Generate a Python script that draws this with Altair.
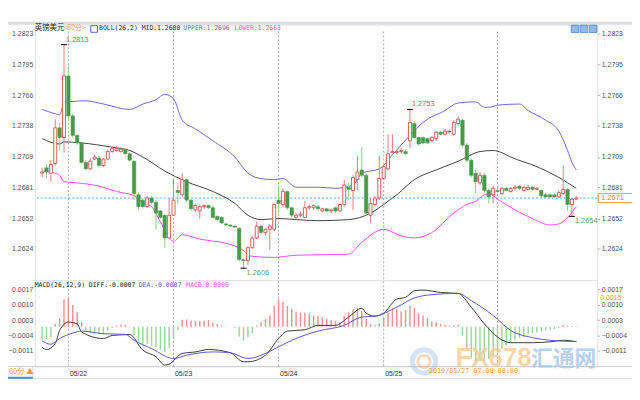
import altair as alt
import pandas as pd

# ---------------- data ----------------
OPEN = [1.2694, 1.2699, 1.2694, 1.2703, 1.2736, 1.2727, 1.2784, 1.2747, 1.2729, 1.2722,
        1.2704, 1.2698, 1.2707, 1.2708, 1.2701, 1.2707, 1.2714, 1.2715, 1.2714, 1.2716,
        1.2712, 1.2705, 1.2674, 1.2669, 1.2663, 1.2671, 1.2667, 1.2659, 1.2655, 1.2634,
        1.2655, 1.2678, 1.2674, 1.2688, 1.2669, 1.2660, 1.2659, 1.2663, 1.2664, 1.2662,
        1.2654, 1.2653, 1.2647, 1.2646, 1.2645, 1.2643, 1.2614, 1.2613, 1.2625, 1.2634,
        1.2645, 1.2639, 1.2642, 1.2642, 1.2669, 1.2665, 1.2677, 1.2662, 1.2653, 1.2655,
        1.2653, 1.2662, 1.2662, 1.2663, 1.2659, 1.2661, 1.2659, 1.2662, 1.2659, 1.2665,
        1.2681, 1.2678, 1.2688, 1.2697, 1.2692, 1.2655, 1.2665, 1.2671, 1.2689, 1.2698,
        1.2713, 1.2713, 1.2714, 1.2714, 1.2724, 1.2740, 1.2727, 1.2727, 1.2726, 1.2724,
        1.2726, 1.2732, 1.2730, 1.2733, 1.2730, 1.2740, 1.2743, 1.2720, 1.2706, 1.2694,
        1.2685, 1.2692, 1.2678, 1.2674, 1.2678, 1.2675, 1.2680, 1.2677, 1.2680, 1.2682,
        1.2678, 1.2679, 1.2681, 1.2679, 1.2678, 1.2674, 1.2674, 1.2674, 1.2672, 1.2675,
        1.2679, 1.2665, 1.2670]
HIGH = [1.2699, 1.2702, 1.2706, 1.2744, 1.2741, 1.2813, 1.2793, 1.2749, 1.2730, 1.2723,
        1.2706, 1.2708, 1.2711, 1.2710, 1.2708, 1.2716, 1.2719, 1.2719, 1.2718, 1.2717,
        1.2713, 1.2706, 1.2676, 1.2671, 1.2673, 1.2673, 1.2669, 1.2660, 1.2656, 1.2671,
        1.2688, 1.2685, 1.2694, 1.2689, 1.2670, 1.2666, 1.2665, 1.2665, 1.2665, 1.2664,
        1.2655, 1.2654, 1.2648, 1.2647, 1.2646, 1.2644, 1.2615, 1.2627, 1.2636, 1.2649,
        1.2646, 1.2643, 1.2647, 1.2666, 1.2683, 1.2680, 1.2678, 1.2663, 1.2657, 1.2658,
        1.2668, 1.2665, 1.2665, 1.2665, 1.2662, 1.2662, 1.2661, 1.2663, 1.2666, 1.2688,
        1.2685, 1.2692, 1.2710, 1.2718, 1.2694, 1.2671, 1.2673, 1.2710, 1.2701, 1.2730,
        1.2730, 1.2716, 1.2717, 1.2716, 1.2753, 1.2742, 1.2728, 1.2728, 1.2727, 1.2728,
        1.2733, 1.2733, 1.2735, 1.2735, 1.2743, 1.2747, 1.2744, 1.2722, 1.2708, 1.2697,
        1.2695, 1.2694, 1.2680, 1.2682, 1.2680, 1.2681, 1.2681, 1.2681, 1.2683, 1.2683,
        1.2682, 1.2683, 1.2682, 1.2681, 1.2679, 1.2676, 1.2676, 1.2676, 1.2678, 1.2701,
        1.2680, 1.2671, 1.2673]
LOW = [1.2690, 1.2689, 1.2686, 1.2701, 1.2715, 1.2713, 1.2744, 1.2727, 1.2720, 1.2703,
       1.2697, 1.2697, 1.2706, 1.2700, 1.2700, 1.2706, 1.2713, 1.2714, 1.2713, 1.2711,
       1.2705, 1.2669, 1.2660, 1.2661, 1.2662, 1.2665, 1.2642, 1.2652, 1.2625, 1.2633,
       1.2655, 1.2665, 1.2672, 1.2667, 1.2659, 1.2658, 1.2652, 1.2661, 1.2661, 1.2652,
       1.2650, 1.2647, 1.2645, 1.2644, 1.2643, 1.2612, 1.2606, 1.2609, 1.2624, 1.2633,
       1.2637, 1.2636, 1.2623, 1.2640, 1.2657, 1.2663, 1.2660, 1.2653, 1.2652, 1.2653,
       1.2653, 1.2660, 1.2660, 1.2659, 1.2658, 1.2658, 1.2657, 1.2657, 1.2658, 1.2663,
       1.2669, 1.2660, 1.2678, 1.2690, 1.2655, 1.2648, 1.2663, 1.2669, 1.2688, 1.2697,
       1.2713, 1.2711, 1.2712, 1.2711, 1.2717, 1.2726, 1.2719, 1.2721, 1.2721, 1.2723,
       1.2724, 1.2729, 1.2729, 1.2730, 1.2729, 1.2738, 1.2718, 1.2704, 1.2690, 1.2675,
       1.2683, 1.2676, 1.2666, 1.2666, 1.2676, 1.2674, 1.2677, 1.2676, 1.2678, 1.2678,
       1.2677, 1.2678, 1.2678, 1.2678, 1.2671, 1.2671, 1.2671, 1.2671, 1.2671, 1.2674,
       1.2659, 1.2654, 1.2669]
CLOSE = [1.2695, 1.2695, 1.2702, 1.2736, 1.2727, 1.2784, 1.2747, 1.2729, 1.2722, 1.2704,
         1.2698, 1.2705, 1.2709, 1.2701, 1.2707, 1.2714, 1.2717, 1.2717, 1.2716, 1.2712,
         1.2706, 1.2675, 1.2663, 1.2663, 1.2671, 1.2667, 1.2657, 1.2653, 1.2634, 1.2655,
         1.2669, 1.2676, 1.2688, 1.2669, 1.2661, 1.2664, 1.2663, 1.2664, 1.2662, 1.2653,
         1.2651, 1.2648, 1.2646, 1.2645, 1.2644, 1.2614, 1.2613, 1.2625, 1.2634, 1.2645,
         1.2639, 1.2642, 1.2645, 1.2665, 1.2666, 1.2677, 1.2662, 1.2655, 1.2655, 1.2656,
         1.2662, 1.2663, 1.2664, 1.2661, 1.2661, 1.2659, 1.2660, 1.2659, 1.2665, 1.2683,
         1.2679, 1.2690, 1.2695, 1.2692, 1.2657, 1.2666, 1.2671, 1.2689, 1.2700, 1.2712,
         1.2714, 1.2714, 1.2715, 1.2712, 1.2741, 1.2727, 1.2721, 1.2722, 1.2722, 1.2727,
         1.2732, 1.2730, 1.2733, 1.2732, 1.2741, 1.2744, 1.2720, 1.2706, 1.2692, 1.2686,
         1.2692, 1.2678, 1.2672, 1.2680, 1.2677, 1.2680, 1.2678, 1.2680, 1.2681, 1.2680,
         1.2681, 1.2681, 1.2679, 1.2680, 1.2673, 1.2672, 1.2672, 1.2672, 1.2676, 1.2679,
         1.2665, 1.2670, 1.2671]

UPPER_IDX = [0, 3, 4, 5, 6, 10, 14, 20, 23, 26, 28, 30, 32, 35, 39, 44, 47, 50, 53, 55,
             58, 63, 67, 71, 73, 77, 80, 84, 87, 92, 95, 99, 101, 102, 104, 109, 111, 115,
             118, 120, 121, 122]
UPPER = [1.2753, 1.2749, 1.2748, 1.2759, 1.2760, 1.2761, 1.2758, 1.2753, 1.2758, 1.2762,
         1.2767, 1.2763, 1.2743, 1.2735, 1.2724, 1.2709, 1.2694, 1.2689, 1.2688, 1.2689,
         1.2681, 1.2681, 1.2680, 1.2683, 1.2694, 1.2698, 1.2711, 1.2729, 1.2741, 1.2752,
         1.2759, 1.2760, 1.2755, 1.2755, 1.2757, 1.2758, 1.2752, 1.2743, 1.2733, 1.2715,
         1.2704, 1.2697]
MID_IDX = [0, 4, 5, 9, 16, 20, 23, 28, 33, 39, 44, 47, 50, 54, 58, 63, 70, 75, 78, 81,
           85, 90, 95, 100, 103, 105, 107, 113, 118, 122]
MID = [1.2726, 1.2721, 1.2723, 1.2722, 1.2718, 1.2715, 1.2709, 1.2696, 1.2686, 1.2677,
       1.2666, 1.2655, 1.2651, 1.2652, 1.2651, 1.2650, 1.2651, 1.2657, 1.2665, 1.2674,
       1.2688, 1.2697, 1.2705, 1.2714, 1.2715, 1.2713, 1.2709, 1.2700, 1.2690, 1.2680]
LOWER_IDX = [0, 3, 4, 5, 8, 13, 17, 21, 23, 25, 27, 30, 32, 36, 43, 45, 48, 53, 58, 70,
             73, 78, 82, 85, 89, 94, 97, 99, 101, 102, 104, 108, 112, 116, 118, 120, 122]
LOWER = [1.2696, 1.2694, 1.2692, 1.2686, 1.2685, 1.2682, 1.2677, 1.2673, 1.2667, 1.2663,
         1.2649, 1.2631, 1.2637, 1.2633, 1.2628, 1.2625, 1.2617, 1.2616, 1.2618, 1.2619,
         1.2630, 1.2642, 1.2636, 1.2634, 1.2639, 1.2657, 1.2665, 1.2668, 1.2674, 1.2675,
         1.2670, 1.2660, 1.2652, 1.2646, 1.2647, 1.2653, 1.2663]

HIST = [-0.00060, -0.00056, -0.00048, 0.00012, 0.00038, 0.00125, 0.00129, 0.00099, 0.00065, 0.00020,
        -0.00018, -0.00030, -0.00030, -0.00033, -0.00036, -0.00021, -0.00006, 0.00005, 0.00009, 0.00009,
        0.00002, -0.00041, -0.00071, -0.00086, -0.00078, -0.00086, -0.00093, -0.00105, -0.00116, -0.00096,
        -0.00056, -0.00015, 0.00032, 0.00032, 0.00027, 0.00027, 0.00027, 0.00027, 0.00030, 0.00017,
        0.00012, 0.00005, 0.00002, 0.00000, -0.00006, -0.00045, -0.00063, -0.00048, -0.00030, 0.00005,
        0.00020, 0.00035, 0.00050, 0.00095, 0.00125, 0.00114, 0.00095, 0.00080, 0.00068, 0.00065,
        0.00065, 0.00060, 0.00050, 0.00050, 0.00042, 0.00035, 0.00030, 0.00027, 0.00020, 0.00050,
        0.00065, 0.00080, 0.00087, 0.00072, 0.00035, 0.00012, 0.00005, 0.00015, 0.00042, 0.00065,
        0.00084, 0.00080, 0.00069, 0.00075, 0.00095, 0.00087, 0.00060, 0.00050, 0.00039, 0.00024,
        0.00020, 0.00012, 0.00009, 0.00005, 0.00005, 0.00009, -0.00041, -0.00108, -0.00146, -0.00161,
        -0.00157, -0.00157, -0.00146, -0.00131, -0.00116, -0.00101, -0.00086, -0.00075, -0.00063, -0.00051,
        -0.00048, -0.00036, -0.00030, -0.00026, -0.00021, -0.00018, -0.00015, -0.00011, -0.00006, 0.00008,
        0.00005, 0.00003, 0.00002]
DIFF_IDX = [0, 1, 3, 4, 6, 8, 9, 14, 16, 20, 23, 26, 28, 29, 32, 35, 38, 43, 46, 47,
            51, 54, 56, 60, 63, 67, 70, 73, 74, 76, 78, 81, 83, 85, 87, 91, 95, 98, 101, 104,
            107, 112, 116, 119, 122]
DIFF = [-0.00095, -0.00104, -0.00077, -0.00017, 0.00021, 0.00013, -0.00024, -0.00054, -0.00040, -0.00036,
        -0.00107, -0.00137, -0.00175, -0.00171, -0.00122, -0.00115, -0.00104, -0.00119, -0.00160, -0.00160,
        -0.00130, -0.00054, -0.00020, -0.00014, 0.00006, 0.00006, 0.00044, 0.00084, 0.00062, 0.00048,
        0.00062, 0.00126, 0.00134, 0.00164, 0.00167, 0.00156, 0.00152, 0.00089, 0.00013, -0.00047,
        -0.00073, -0.00073, -0.00069, -0.00062, -0.00068]
DEA_IDX = [0, 2, 4, 7, 9, 14, 19, 21, 25, 30, 33, 39, 43, 47, 51, 54, 57, 63, 69, 73,
           76, 81, 85, 89, 95, 98, 103, 107, 112, 116, 122]
DEA = [-0.00065, -0.00080, -0.00054, -0.00029, -0.00020, -0.00032, -0.00035, -0.00062, -0.00100, -0.00145,
       -0.00130, -0.00115, -0.00119, -0.00145, -0.00122, -0.00092, -0.00062, -0.00020, 0.00006, 0.00044,
       0.00048, 0.00089, 0.00131, 0.00146, 0.00152, 0.00119, 0.00051, -0.00017, -0.00050, -0.00062,
       -0.00068]

DAY_IDX = [6, 30, 54, 78, 104]
DAY_LABELS = ['05/22', '05/23', '05/24', '05/25', '']
PRICE_TICKS = [1.2624, 1.2652, 1.2681, 1.2709, 1.2738, 1.2766, 1.2795, 1.2823]
MACD_TICKS = [-0.0011, -0.0004, 0.0003, 0.0010, 0.0017]
EXT_IDX = [5, 84, 46, 121]
EXT_KIND = ['high', 'high', 'low', 'low']

BOLL_HEAD = ['英镑美元', '<60分>', 'BOLL(26,2) MID:1.2680', 'UPPER:1.2696', 'LOWER:1.2663']
MACD_HEAD = ['MACD(26,12,9) DIFF:-0.0007', 'DEA:-0.0007', 'MACD:0.0000']

# ---------------- styling ----------------
RED = '#e05c5c'
RED_WICK = '#e47d7d'
GREEN = '#4a984a'
GREEN_WICK = '#8fcc8f'
UP_C = '#6a6ad6'
MID_C = '#444444'
LOW_C = '#ff4dff'
DIFF_C = '#3a3a3a'
DEA_C = '#5a5ad6'
HIST_UP = '#ee9494'
HIST_DN = '#9fd49f'
ORANGE = '#f39a35'
MONO = 'DejaVu Sans Mono'
SANS = 'Liberation Sans'
CJK = 'Noto Sans CJK SC'

W, H = 568, 345
X_SCALE = alt.Scale(domain=[-0.556, 125.667], nice=False, zero=False)
PRICE_SCALE = alt.Scale(domain=[1.25958, 1.28315], range=[257, 0], nice=False, zero=False)
MACD_SCALE = alt.Scale(domain=[-0.00181, 0.00203], range=[345, 260], nice=False, zero=False)

N = len(OPEN)
cdf = pd.DataFrame({'i': list(range(N)), 'open': OPEN, 'high': HIGH, 'low': LOW,
                    'close': CLOSE, 'hist': HIST})
cdf['dir'] = ['up' if c >= o else 'down' for o, c in zip(OPEN, CLOSE)]

XN = alt.X('i:Q', scale=X_SCALE, axis=None)


def axis(orient, values, ticks=False):
    kw = dict(orient=orient, values=values, format='.4f', title=None, grid=False,
              domain=False, ticks=ticks, labelPadding=2, labelFont=SANS,
              labelFontSize=7, labelColor='#555555')
    if ticks:
        kw.update(tickSize=2, tickColor='#aaaaaa')
    return alt.Axis(**kw)


def one():
    return pd.DataFrame({'a': [0]})


def txt(s, x, y, color='#222222', size=6.5, font=MONO, align='left',
        baseline='middle', weight='normal', opacity=1.0):
    return alt.Chart(pd.DataFrame({'t': [s]})).mark_text(
        align=align, baseline=baseline, font=font, fontSize=size, color=color,
        fontWeight=weight, opacity=opacity).encode(
        x=alt.value(x), y=alt.value(y), text='t:N')


def hrule(x1, x2, y, color, width=1.0):
    return alt.Chart(one()).mark_rule(color=color, strokeWidth=width).encode(
        x=alt.value(x1), x2=alt.value(x2), y=alt.value(y))


def vrule(x, y1, y2, color, width=1.0):
    return alt.Chart(one()).mark_rule(color=color, strokeWidth=width).encode(
        x=alt.value(x), y=alt.value(y1), y2=alt.value(y2))


def rect(x1, x2, y1, y2, **kw):
    return alt.Chart(one()).mark_rect(**kw).encode(
        x=alt.value(x1), x2=alt.value(x2), y=alt.value(y1), y2=alt.value(y2))


layers = []

# frame decorations
layers.append(rect(-27, 603, -3, 0, fill='#dcdce4'))
layers.append(hrule(0, W, 258.5, '#dddddd'))
layers.append(hrule(-27, 603, 345, '#cccccc'))
layers.append(hrule(-27, 603, 357.5, '#dddddd'))
layers.append(vrule(-2, 345, 357, '#dddddd'))

# day separator lines + date axis
expr = ''.join(f"datum.value == {d} ? '{l}' : " for d, l in zip(DAY_IDX, DAY_LABELS)) + "''"
day_df = pd.DataFrame({'i': DAY_IDX})
layers.append(alt.Chart(day_df).mark_rule(color='#aaaaaa', strokeDash=[2, 2], strokeWidth=1).encode(
    x=alt.X('i:Q', scale=X_SCALE, axis=alt.Axis(
        orient='bottom', values=DAY_IDX[:4], labelExpr=expr, title=None, grid=False,
        domain=False, ticks=False, labelAlign='left', labelOffset=1, labelPadding=3,
        labelFlush=False, labelFont=SANS, labelFontSize=7, labelColor='#333333')),
    y=alt.value(7), y2=alt.value(H)))

# current price line
LAST = CLOSE[-1]
layers.append(alt.Chart(one()).mark_rule(color='#4da6ff', strokeDash=[2, 2], strokeWidth=1).encode(
    y=alt.YDatum(LAST, scale=PRICE_SCALE, axis=None)))

# Bollinger bands
for idx, vals, col, ax in [(UPPER_IDX, UPPER, UP_C, axis('right', PRICE_TICKS, True)),
                           (MID_IDX, MID, MID_C, None),
                           (LOWER_IDX, LOWER, LOW_C, None)]:
    layers.append(alt.Chart(pd.DataFrame({'i': idx, 'v': vals})).mark_line(
        color=col, strokeWidth=1, interpolate='monotone').encode(
        x=XN, y=alt.Y('v:Q', scale=PRICE_SCALE, axis=ax)))

# candles
up = alt.Chart(cdf).transform_filter("datum.dir == 'up'")
dn = alt.Chart(cdf).transform_filter("datum.dir == 'down'")
layers.append(up.mark_rule(color=RED_WICK, strokeWidth=1).encode(
    x=XN, y=alt.Y('low:Q', scale=PRICE_SCALE, axis=axis('left', PRICE_TICKS)), y2='high:Q'))
layers.append(dn.mark_rule(color=GREEN_WICK, strokeWidth=1).encode(
    x=XN, y=alt.Y('low:Q', scale=PRICE_SCALE, axis=None), y2='high:Q'))
layers.append(up.mark_bar(size=3, fill='white', stroke=RED, strokeWidth=1).encode(
    x=XN, y=alt.Y('open:Q', scale=PRICE_SCALE, axis=None), y2='close:Q'))
layers.append(dn.mark_bar(size=3.5, fill=GREEN, stroke=GREEN, strokeWidth=0.5).encode(
    x=XN, y=alt.Y('open:Q', scale=PRICE_SCALE, axis=None), y2='close:Q'))

# extreme markers
ext = pd.DataFrame({'i': EXT_IDX, 'kind': EXT_KIND,
                    'v': [HIGH[i] if k == 'high' else LOW[i] for i, k in zip(EXT_IDX, EXT_KIND)]})
ext['label'] = [f'{v:.4f}' for v in ext['v']]
layers.append(alt.Chart(ext).mark_point(shape='stroke', size=36, color='black', strokeWidth=1,
                                        opacity=1).encode(
    x=XN, y=alt.Y('v:Q', scale=PRICE_SCALE, axis=None)))
layers.append(alt.Chart(ext).transform_filter("datum.kind == 'high'").mark_text(
    align='left', baseline='alphabetic', dx=2, dy=-3, font=SANS, fontSize=7.5,
    color='#e05a5a').encode(x=XN, y=alt.Y('v:Q', scale=PRICE_SCALE, axis=None), text='label:N'))
layers.append(alt.Chart(ext).transform_filter("datum.kind == 'low'").mark_text(
    align='left', baseline='top', dx=3, dy=1, font=SANS, fontSize=7.5,
    color='#5fa85f').encode(x=XN, y=alt.Y('v:Q', scale=PRICE_SCALE, axis=None), text='label:N'))

# last price box on the right
layers.append(alt.Chart(one()).mark_rect(fill='white', stroke='#f5a040', strokeWidth=1,
                                         yOffset=-4.5, y2Offset=4.5).encode(
    x=alt.value(569), x2=alt.value(604),
    y=alt.YDatum(LAST, scale=PRICE_SCALE, axis=None), y2=alt.Y2Datum(LAST)))
layers.append(alt.Chart(pd.DataFrame({'t': [f'{LAST:.4f}']})).mark_text(
    align='left', baseline='middle', font=SANS, fontSize=7.5, color='#f08a20').encode(
    x=alt.value(572), y=alt.YDatum(LAST, scale=PRICE_SCALE, axis=None), text='t:N'))

# MACD histogram and lines
layers.append(alt.Chart(cdf).transform_filter('datum.hist >= 0').mark_bar(size=1.5, color=HIST_UP).encode(
    x=XN, y=alt.Y('hist:Q', scale=MACD_SCALE, axis=axis('left', MACD_TICKS)), y2=alt.Y2Datum(0)))
layers.append(alt.Chart(cdf).transform_filter('datum.hist < 0').mark_bar(size=1.5, color=HIST_DN).encode(
    x=XN, y=alt.Y('hist:Q', scale=MACD_SCALE, axis=None), y2=alt.Y2Datum(0)))
layers.append(alt.Chart(pd.DataFrame({'i': DIFF_IDX, 'v': DIFF})).mark_line(
    color=DIFF_C, strokeWidth=1, interpolate='monotone').encode(
    x=XN, y=alt.Y('v:Q', scale=MACD_SCALE, axis=None)))
layers.append(alt.Chart(pd.DataFrame({'i': DEA_IDX, 'v': DEA})).mark_line(
    color=DEA_C, strokeWidth=1, interpolate='monotone').encode(
    x=XN, y=alt.Y('v:Q', scale=MACD_SCALE, axis=axis('right', MACD_TICKS, True))))
layers.append(txt('0.0015', 571, 276, color='#f5a040', size=7, font=SANS))

# headers
layers.append(txt(BOLL_HEAD[0], 0, 3.7, color='#222222', size=7.5, font=CJK))
layers.append(txt(BOLL_HEAD[1], 29, 3.7, color=ORANGE, size=7, font=CJK))
layers.append(rect(56.7, 63.3, 1, 7.7, fill='white', stroke='#4466cc', strokeWidth=1))
layers.append(txt(BOLL_HEAD[2], 65, 3.7, color='#222222'))
layers.append(txt(BOLL_HEAD[3], 150, 3.7, color=UP_C))
layers.append(txt(BOLL_HEAD[4], 201.7, 3.7, color=LOW_C))
for x1 in [541.7, 550.7, 560]:
    layers.append(rect(x1, x1 + 7.6, 0.5, 8, fill='#8dbbe8', stroke='#4a88c8', strokeWidth=0.8))
layers.append(txt(MACD_HEAD[0], 0, 262.7, color='#222222'))
layers.append(txt(MACD_HEAD[1], 105, 262.7, color=DEA_C))
layers.append(txt(MACD_HEAD[2], 153, 262.7, color=LOW_C))

# bottom strip
layers.append(txt('60分 ▲', -26, 351, color=ORANGE, size=7.5, font=CJK))
layers.append(hrule(-27, -2, 356.5, '#3b8de0', 2))

# watermark
layers.append(alt.Chart(one()).mark_point(shape='circle', size=560, filled=False, color='#9ec3e6',
                                          strokeWidth=5, opacity=0.45).encode(
    x=alt.value(393), y=alt.value(340)))
layers.append(alt.Chart(one()).mark_point(shape='circle', size=150, filled=False, color='#f5b380',
                                          strokeWidth=3, opacity=0.5).encode(
    x=alt.value(393), y=alt.value(340)))
layers.append(txt('FX678', 425, 337, color='#f8c98e', size=26, font=SANS, weight='bold', opacity=0.75))
layers.append(txt('汇通网', 501, 338, color='#a7c6ea', size=22, font=CJK, weight='bold', opacity=0.8))
layers.append(txt('2019/05/27 07:00~08:00', 398, 350, color='#f39c3c', size=6.8))

chart = alt.layer(*layers).resolve_scale(y='independent').resolve_axis(
    y='independent', x='independent').properties(
    width=W, height=H, autosize=alt.AutoSizeParams(type='none'),
    padding={'left': 27, 'top': 15, 'right': 35, 'bottom': 20},
    background='white').configure_view(stroke='#e2e2e2')

chart.save('out.html', embed_options={'renderer': 'svg', 'actions': False})
